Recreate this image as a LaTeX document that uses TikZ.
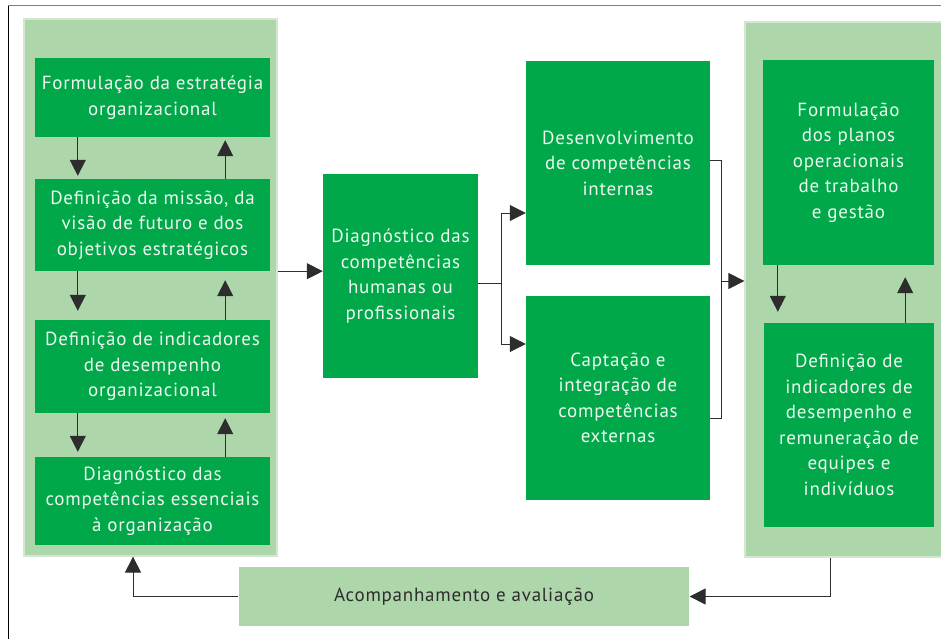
\documentclass[tikz,border=0pt]{standalone}
\usepackage{fontspec}
\setmainfont{PT Sans}[LetterSpace=4]
\usetikzlibrary{arrows.meta,positioning,calc}
\definecolor{boxgreen}{RGB}{0,168,74}
\definecolor{panelgreen}{RGB}{174,214,171}
\definecolor{boxtext}{RGB}{236,248,238}
\definecolor{linegray}{RGB}{45,45,45}

\begin{document}
\begin{tikzpicture}[x=1pt,y=-1pt,
    stage/.style={fill=boxgreen, text=boxtext, align=center, inner sep=0pt,
        font=\fontsize{19}{25.5}\selectfont},
    panel/.style={fill=panelgreen, draw=panelgreen!55!white, line width=1.2pt, inner sep=0pt},
    link/.style={draw=linegray, line width=0.8pt},
    arr/.style={link, -{Triangle[length=16pt,width=16pt]}}]
    \useasboundingbox (0,0) rectangle (941,639);

    % outer frame
    \draw[gray, line width=1pt] (8,6) -- (941,6);
    \draw[black, line width=1pt] (8,6) -- (8,639);

    % left column
    \node[panel, minimum width=253pt, minimum height=537pt] (leftp) at (150.5,287.5) {};
    \node[stage, minimum width=235pt, minimum height=79pt] (b1) at (152.5,97.5)
        {Formulação da estratégia\\organizacional};
    \node[stage, minimum width=235pt, minimum height=92pt] (b2) at (152.5,225)
        {Definição da missão, da\\visão de futuro e dos\\objetivos estratégicos};
    \node[stage, minimum width=235pt, minimum height=93pt] (b3) at (152.5,366.5)
        {Definição de indicadores\\de desempenho\\organizacional};
    \node[stage, minimum width=235pt, minimum height=88pt] (b4) at (152.5,501)
        {Diagnóstico das\\competências essenciais\\à organização};
    \foreach \a/\b/\g in {b1/b2/3, b2/b3/9, b3/b4/5} {
        \draw[arr] ([xshift=43pt]\a.south west) -- ([xshift=43pt,yshift=\g pt]\b.north west);
        \draw[arr] ([xshift=-45pt]\b.north east) -- ([xshift=-45pt,yshift=-\g pt]\a.south east);
    }

    % middle
    \node[stage, minimum width=155pt, minimum height=204pt] (diag) at (400.5,276)
        {Diagnóstico das\\competências\\humanas ou\\profissionais};
    \node[stage, minimum width=184pt, minimum height=204pt] (dev) at (618,163)
        {Desenvolvimento\\de competências\\internas};
    \node[stage, minimum width=184pt, minimum height=204pt] (capt) at (618,398)
        {Captação e\\integração de\\competências\\externas};
    \draw[arr] (leftp.east |- b2.south) -- (diag.west |- b2.south);
    \coordinate (split) at (501,283);
    \coordinate (merge) at (721,281);
    \draw[link] (diag.east |- split) -- (split);
    \draw[arr] (split) |- ([yshift=-50pt]dev.west);
    \draw[arr] (split) |- ([yshift=54pt]capt.west);
    \draw[link] ([yshift=3pt]dev.east) -| (merge) |- ([yshift=-20pt]capt.east);

    % right column
    \node[panel, minimum width=200pt, minimum height=535pt] (rightp) at (845,289.5) {};
    \node[stage, minimum width=171pt, minimum height=205pt] (r1) at (848.5,162.5)
        {Formulação\\dos planos\\operacionais\\de trabalho\\e gestão};
    \node[stage, minimum width=170pt, minimum height=204pt] (r2) at (849,425)
        {Definição de\\indicadores de\\desempenho e\\remuneração de\\equipes e\\indivíduos};
    \draw[arr] (merge) -- (merge -| rightp.west);
    \draw[arr] ([xshift=15pt]r1.south west) -- ([xshift=14pt,yshift=11pt]r2.north west);
    \draw[arr] ([xshift=-29pt]r2.north east) -- ([xshift=-29pt,yshift=-12pt]r1.south east);

    % feedback loop
    \node[panel, draw=none, text=linegray, font=\fontsize{19}{25.5}\selectfont,
        minimum width=450pt, minimum height=59pt] (acomp) at (464,596.5)
        {Acompanhamento e avaliação};
    \draw[arr] ([xshift=-15pt]rightp.south) |- (acomp.east);
    \draw[arr] (acomp.west) -| ([xshift=-17.5pt]leftp.south);
\end{tikzpicture}
\end{document}
